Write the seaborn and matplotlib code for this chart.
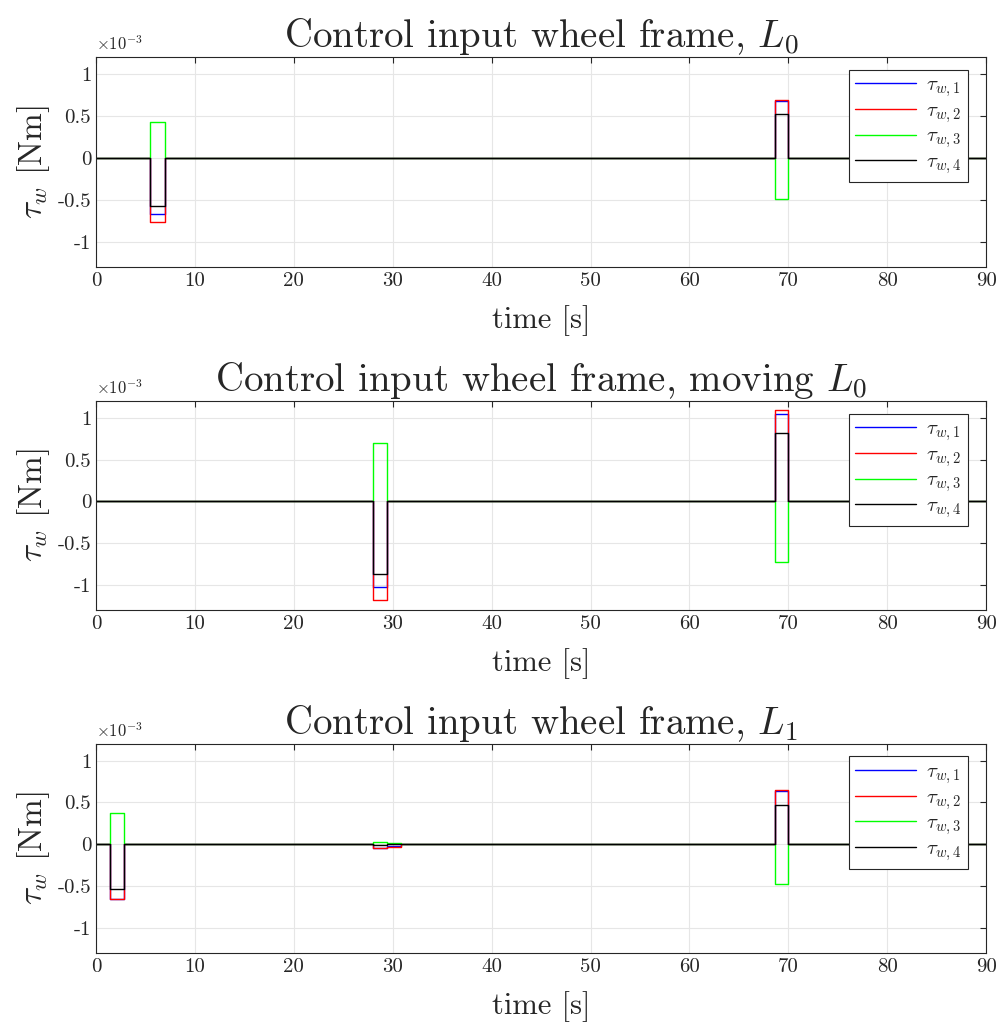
import numpy as np
import pandas as pd
import seaborn as sns
import matplotlib.pyplot as plt

# данные: моменты переключения (с) и значения момента (x1e-3 Nm), ступенчатый сигнал
t_L0 = [0, 5.5, 7.0, 68.6, 70.0, 90]
tau1_L0 = [0, -0.665, 0, 0.68, 0, 0]
tau2_L0 = [0, -0.77, 0, 0.69, 0, 0]
tau3_L0 = [0, 0.43, 0, -0.49, 0, 0]
tau4_L0 = [0, -0.575, 0, 0.52, 0, 0]

t_mov = [0, 28.0, 29.4, 68.6, 70.0, 90]
tau1_mov = [0, -1.02, 0, 1.04, 0, 0]
tau2_mov = [0, -1.18, 0, 1.09, 0, 0]
tau3_mov = [0, 0.70, 0, -0.73, 0, 0]
tau4_mov = [0, -0.87, 0, 0.82, 0, 0]

t_L1 = [0, 1.4, 2.8, 28.0, 29.4, 30.8, 68.6, 70.0, 90]
tau1_L1 = [0, -0.65, 0, -0.04, -0.02, 0, 0.64, 0, 0]
tau2_L1 = [0, -0.65, 0, -0.05, -0.03, 0, 0.65, 0, 0]
tau3_L1 = [0, 0.38, 0, 0.03, 0.01, 0, -0.47, 0, 0]
tau4_L1 = [0, -0.53, 0, -0.01, 0, 0, 0.47, 0, 0]

titles = [r"Control input wheel frame, $L_0$",
          r"Control input wheel frame, moving $L_0$",
          r"Control input wheel frame, $L_1$"]
labels = [r"$\tau_{w,1}$", r"$\tau_{w,2}$", r"$\tau_{w,3}$", r"$\tau_{w,4}$"]
colors = ["#0000ff", "#ff0000", "#00ff00", "#000000"]

panels = [
    (t_L0, [tau1_L0, tau2_L0, tau3_L0, tau4_L0]),
    (t_mov, [tau1_mov, tau2_mov, tau3_mov, tau4_mov]),
    (t_L1, [tau1_L1, tau2_L1, tau3_L1, tau4_L1]),
]

sns.set_style("white")
plt.rcParams["font.family"] = "serif"
plt.rcParams["font.serif"] = ["cmr10", "DejaVu Serif"]
plt.rcParams["mathtext.fontset"] = "cm"
plt.rcParams["axes.unicode_minus"] = False

fig = plt.figure(figsize=(9.98, 10.27), dpi=100)
# позиции осей (доли фигуры)
boxes = [(0.0962, 0.740, 0.892, 0.2045),
         (0.0962, 0.406, 0.892, 0.2035),
         (0.0962, 0.0721, 0.892, 0.2035)]

for i, (t, series) in enumerate(panels):
    ax = fig.add_axes(boxes[i])
    for s, lab, c in zip(series, labels, colors):
        df = pd.DataFrame({"time": t, "tau": s})
        sns.lineplot(data=df, x="time", y="tau", ax=ax, color=c, lw=1.0,
                     drawstyle="steps-post", estimator=None, sort=False, label=lab)
    ax.set_xlim(0, 90)
    ax.set_ylim(-1.3, 1.2)
    ax.set_xticks(np.arange(0, 91, 10))
    ax.set_yticks([-1, -0.5, 0, 0.5, 1])
    ax.set_yticklabels(["-1", "-0.5", "0", "0.5", "1"])
    ax.grid(True, color="#e6e6e6", lw=0.8)
    ax.set_axisbelow(True)
    ax.tick_params(direction="in", labelsize=15, length=4, top=True, right=True, color="#262626")
    for sp in ax.spines.values():
        sp.set_color("#262626")
        sp.set_linewidth(0.8)
    ax.set_title(titles[i], fontsize=28, pad=7)
    ax.set_xlabel("time [s]", fontsize=22, labelpad=11)
    ax.set_ylabel(r"$\tau_w$ [Nm]", fontsize=24, labelpad=4)
    ax.text(0.0, 1.02, r"$\times10^{-3}$", transform=ax.transAxes, fontsize=12,
            ha="left", va="bottom", color="#262626")
    leg = ax.legend(loc="upper right", bbox_to_anchor=(0.979, 0.94), borderaxespad=0,
                    fontsize=15, frameon=True, fancybox=False, edgecolor="#262626",
                    framealpha=1.0, handlelength=2.9, handletextpad=0.5,
                    borderpad=0.3, labelspacing=0.12)
    leg.get_frame().set_linewidth(0.8)

fig.savefig("out.png", dpi=100)
